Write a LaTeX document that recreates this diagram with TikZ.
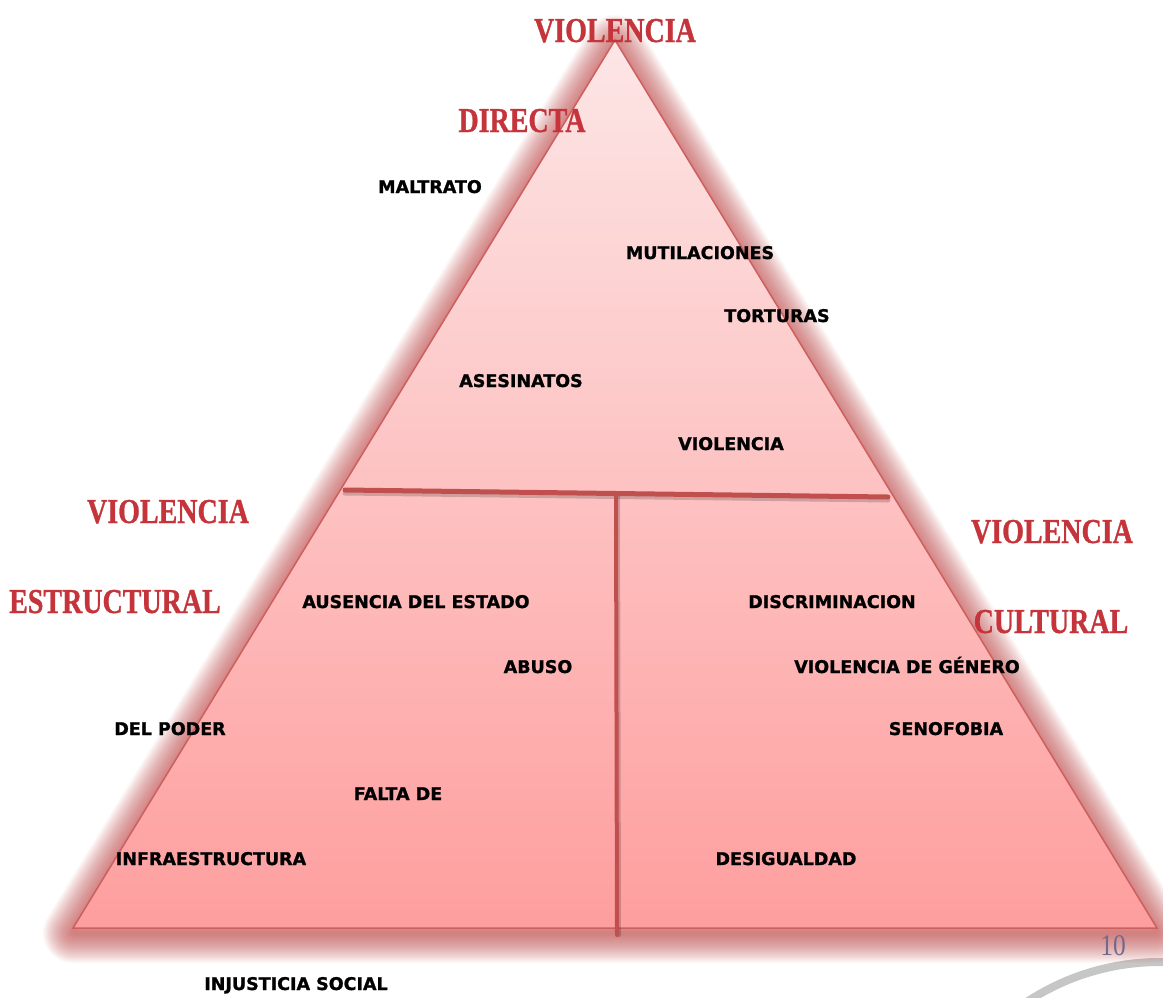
\documentclass[tikz,border=0pt]{standalone}
\usepackage{fontspec}
\newfontfamily\lblfam{DejaVu Sans}[FakeBold=1.2]
\newfontfamily\ttlfam{Liberation Serif}[FakeStretch=0.8,FakeBold=0.8]
\newfontfamily\numfam{Liberation Serif}[FakeStretch=0.85]
\definecolor{tritop}{RGB}{253,230,230}
\definecolor{tribot}{RGB}{254,158,158}
\definecolor{triedge}{RGB}{205,95,95}
\definecolor{glowc}{RGB}{195,65,65}
\definecolor{divline}{RGB}{192,80,77}
\definecolor{ttlred}{RGB}{196,52,58}
\definecolor{numcol}{RGB}{115,105,140}
\definecolor{arcgray}{RGB}{198,198,198}
\tikzset{
  lbl/.style={font=\lblfam\bfseries\fontsize{17.5}{20}\selectfont, inner sep=0pt, anchor=base, text=black},
  ttl/.style={font=\ttlfam\bfseries\fontsize{35}{40}\selectfont, inner sep=0pt, anchor=base, text=ttlred},
  divider/.style={draw=divline, line cap=round},
  divsh/.style={draw=black, draw opacity=0.18, line cap=round},
}
\begin{document}
\begin{tikzpicture}[x=1pt,y=-1pt]
\useasboundingbox (0,0) rectangle (1163,997);
\fill[white] (0,0) rectangle (1163,997);

% background arc of the slide
\draw[arcgray, line width=8pt] (1160,1204) circle[radius=242];

% glow around triangle
\begin{scope}[yshift=-5pt]
\foreach \w in {60,58,...,4}
  \draw[glowc, line width=\w pt, draw opacity=0.031, line join=round]
    (615,40) -- (73,928) -- (1157,928) -- cycle;
\end{scope}

% triangle
\coordinate (apex) at (615,40);
\coordinate (bl) at (73,928);
\coordinate (br) at (1157,928);
\shade[top color=tritop, bottom color=tribot] (apex) -- (bl) -- (br) -- cycle;
\draw[triedge, line width=1.5pt, line join=miter] (apex) -- (bl) -- (br) -- cycle;

% dividing lines
\coordinate (hl) at (345,490);
\coordinate (hr) at (888,497);
\coordinate (vt) at (616,494);
\coordinate (vb) at (617,935);
\begin{scope}[yshift=-3pt]
\draw[divsh, line width=5pt] (345,490) -- (888,497);
\end{scope}
\begin{scope}[xshift=2pt]
\draw[divsh, line width=4pt] (616,494) -- (617,935);
\end{scope}
\draw[divider, line width=5pt] (hl) -- (hr);
\draw[divider, line width=4pt] (vt) -- (vb);

% red titles
\node[ttl] (t1) at (615,42) {VIOLENCIA};
\node[ttl] (t2) at (522,132) {DIRECTA};
\node[ttl] (t3) at (168,523) {VIOLENCIA};
\node[ttl] (t4) at (115,613) {ESTRUCTURAL};
\node[ttl] (t5) at (1052,543) {VIOLENCIA};
\node[ttl] (t6) at (1051,633) {CULTURAL};

% black labels
\node[lbl] (maltrato) at (430,193) {MALTRATO};
\node[lbl] (mutil) at (700,259) {MUTILACIONES};
\node[lbl] (tort) at (777,322) {TORTURAS};
\node[lbl] (asesin) at (521,387) {ASESINATOS};
\node[lbl] (viol) at (731,450) {VIOLENCIA};
\node[lbl] (ausencia) at (416,608) {AUSENCIA DEL ESTADO};
\node[lbl] (abuso) at (538,673) {ABUSO};
\node[lbl] (poder) at (170,735) {DEL PODER};
\node[lbl] (falta) at (398,800) {FALTA DE};
\node[lbl] (infra) at (211,865) {INFRAESTRUCTURA};
\node[lbl] (injust) at (296,990) {INJUSTICIA SOCIAL};
\node[lbl] (discr) at (832,608) {DISCRIMINACION};
\node[lbl] (genero) at (907,673) {VIOLENCIA DE GÉNERO};
\node[lbl] (xeno) at (946,735) {SENOFOBIA};
\node[lbl] (desig) at (786,865) {DESIGUALDAD};

% page number
\node[font=\numfam\fontsize{30}{34}\selectfont, text=numcol, inner sep=0pt, anchor=base] (pnum) at (1113,955) {10};
\end{tikzpicture}
\end{document}
